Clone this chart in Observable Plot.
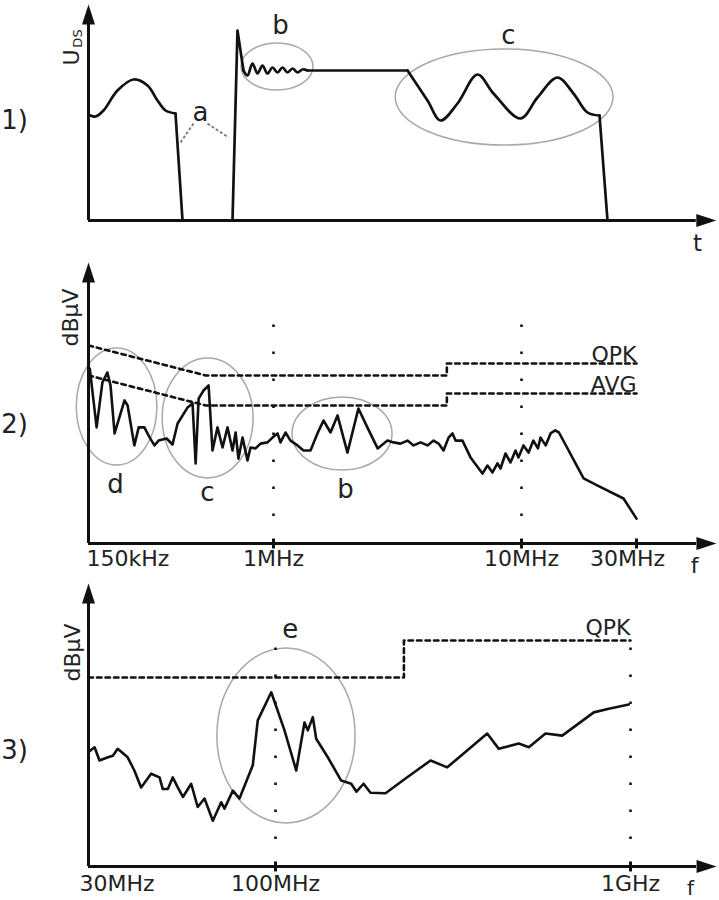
<!DOCTYPE html>
<html><head><meta charset="utf-8">
<script src="https://cdn.jsdelivr.net/npm/d3@7"></script>
<script src="https://cdn.jsdelivr.net/npm/@observablehq/plot@0.6"></script>
<style>body{margin:0;background:#fff}#chart svg{display:block}</style>
</head><body><div id="chart"></div>
<script>
// ---------- Panel 1: drain-source voltage U_DS over time (arbitrary units) ----------
const waveSmooth = [
  {part:"bump",t:0.33,v:52.5},{part:"bump",t:1.17,v:52},{part:"bump",t:2.5,v:55},{part:"bump",t:4.83,v:65},
  {part:"bump",t:7.5,v:70.5},{part:"bump",t:9.83,v:67.5},{part:"bump",t:11.5,v:60},{part:"bump",t:12.83,v:55},{part:"bump",t:14.5,v:53.5},
  {part:"ring",t:25.83,v:75},{part:"ring",t:26.5,v:72.5},{part:"ring",t:27.33,v:78.5},{part:"ring",t:28.17,v:73.5},
  {part:"ring",t:29,v:77.5},{part:"ring",t:29.83,v:73.5},{part:"ring",t:30.67,v:76.5},{part:"ring",t:31.5,v:74},
  {part:"ring",t:32.33,v:76.5},{part:"ring",t:33.17,v:74},{part:"ring",t:34,v:76},{part:"ring",t:34.83,v:74},
  {part:"ring",t:35.67,v:75.5},{part:"ring",t:36.5,v:75},
  {part:"osc",t:53.17,v:75},{part:"osc",t:56.5,v:60},{part:"osc",t:58.67,v:50},{part:"osc",t:61.5,v:58.5},
  {part:"osc",t:64.83,v:73},{part:"osc",t:67.5,v:63.5},{part:"osc",t:72,v:51},{part:"osc",t:74.83,v:61.5},
  {part:"osc",t:78.17,v:71.5},{part:"osc",t:80.83,v:63.5},{part:"osc",t:83.17,v:54},{part:"osc",t:85.17,v:52.5}
];
const waveEdges = [
  {part:"off",t:14.5,v:53.5},{part:"off",t:15.67,v:0},{part:"off",t:24,v:0},{part:"off",t:24.83,v:95},{part:"off",t:25.83,v:75},
  {part:"flat",t:36.5,v:75},{part:"flat",t:53.17,v:75},
  {part:"fall",t:85.17,v:52.5},{part:"fall",t:86.5,v:0}
];
const ellipses1 = [
  {x1:25.5,x2:37.5,y1:65,y2:88.5},
  {x1:51.2,x2:87.5,y1:37.5,y2:85.5}
];
const letters1 = [{label:"a",t:18.67,v:54},{label:"b",t:32,v:97.5},{label:"c",t:70,v:92.5}];
const aLeaders = [{x1:17.5,y1:48.5,x2:15.33,y2:39},{x1:19.83,y1:48.5,x2:23.33,y2:41.5}];
const axis1 = {tEnd:101.3, vEnd:98};

// ---------- Panel 2: conducted emission spectrum 150 kHz – 30 MHz ----------
const spectrum2 = [
  [0.150,57.0],[0.152,58.3],[0.163,38.7],[0.173,53.7],[0.182,57.0],[0.188,52.7],[0.196,36.7],[0.217,47.7],[0.224,46.0],
  [0.240,32.7],[0.251,38.7],[0.266,38.7],[0.281,35.3],[0.295,32.7],[0.308,34.3],[0.334,35.0],[0.355,33.0],[0.374,40.0],
  [0.414,45.3],[0.436,46.7],[0.450,26.7],[0.464,48.3],[0.488,51.0],[0.514,52.7],[0.535,31.0],[0.563,38.7],[0.593,32.0],
  [0.624,38.7],[0.657,31.0],[0.678,37.0],[0.698,28.3],[0.728,35.3],[0.766,27.7],[0.790,32.0],[0.832,31.7],[0.875,33.3],
  [0.940,33.7],[0.990,35.3],[1.038,36.7],[1.067,33.7],[1.118,37.0],[1.171,34.3],[1.250,32.7],[1.321,31.0],[1.410,31.0],
  [1.504,36.7],[1.591,41.0],[1.698,37.0],[1.812,42.7],[1.987,30.3],[2.20,45.0],[2.39,38.7],[2.63,31.7],[2.88,34.3],
  [3.05,33.7],[3.25,33.3],[3.47,34.3],[3.67,32.7],[3.92,33.7],[4.18,32.7],[4.42,34.3],[4.63,33.3],[4.85,31.0],[5.08,35.3],
  [5.27,36.7],[5.42,34.3],[5.78,34.3],[6.23,28.7],[6.96,23.3],[7.29,26.0],[7.64,23.7],[8.00,26.7],[8.23,25.0],[8.62,30.0],
  [9.03,27.0],[9.46,31.0],[9.72,28.7],[10.19,32.7],[10.7,30.3],[11.2,34.3],[11.7,31.7],[12.0,35.3],[12.6,32.7],[13.2,36.7],
  [13.8,37.7],[14.3,37.0],[18.1,21.7],[20.7,19.3],[26.5,15.0],[30,8.3]
];
const qpk2 = [[0.15,66],[0.5,56],[5,56],[5,60],[30,60]];
const avg2 = [[0.15,56],[0.5,46],[5,46],[5,50],[30,50]];
const ellipses2 = [
  {x1:0.133,x2:0.304,y1:26,y2:65},
  {x1:0.321,x2:0.815,y1:21.7,y2:61.7},
  {x1:1.193,x2:3.02,y1:24.3,y2:48.7}
];
const letters2 = [{label:"d",f:0.198,db:19.7},{label:"c",f:0.508,db:17},{label:"b",f:1.95,db:18}];
const limitLabels2 = [{label:"QPK",f:30,db:63},{label:"AVG",f:30,db:52.7}];
const ticks2 = [{f:0.15,label:"150kHz"},{f:1,label:"1MHz"},{f:10,label:"10MHz"},{f:30,label:"30MHz"}];
const guides2 = [1,10];
const axis2 = {fStart:0.15, fEnd:53.2, dbBase:0, dbEnd:87, guideTop:80};

// ---------- Panel 3: radiated emission spectrum 30 MHz – 1 GHz ----------
const spectrum3 = [
  [30,15.9],[31.2,16.8],[32.2,14.3],[34.0,14.9],[35.1,15.2],[36.2,16.5],[38.6,14.9],[40.3,12.4],[42.1,9.2],[44.9,11.8],
  [47.4,11.1],[48.4,8.9],[50.0,8.9],[51.6,11.1],[53.3,9.2],[55.1,7.4],[58.1,9.9],[60.6,5.5],[63.3,7.1],[66.8,2.9],
  [70.5,6.4],[72.0,5.2],[76.0,8.6],[79.3,7.1],[86.4,13.4],[89.2,21.9],[97.3,27.2],[106.0,20.0],[114.4,12.4],[120.7,21.5],
  [123.3,20.0],[127.4,22.5],[130.2,18.4],[140.4,14.9],[153.1,10.5],[163.4,9.9],[169.1,8.4],[177.0,9.9],[185.2,8.2],
  [204.1,8.1],[232.4,10.9],[273.4,14.3],[304.6,13.0],[394.8,19.4],[425.6,16.5],[484.6,17.5],[517.2,16.8],[576.2,19.4],
  [642.1,19.0],[788.1,23.4],[868.6,24.1],[989.0,24.9]
];
const qpk3 = [[30,30],[230,30],[230,37],[1000,37]];
const ellipses3 = [{x1:68.8,x2:168.1,y1:2.4,y2:35.5}];
const letters3 = [{label:"e",f:110,db:39.1}];
const limitLabels3 = [{label:"QPK",f:1000,db:39.3}];
const ticks3 = [{f:30,label:"30MHz"},{f:100,label:"100MHz"},{f:1000,label:"1GHz"}];
const guides3 = [{f:100,top:39},{f:1000,top:37}];
const axis3 = {fStart:30, fEnd:1535, dbBase:-5.75, dbEnd:44};

// ---------- shared styling ----------
const FONT = "DejaVu Sans";
const INK = "#111";
const TXT = "#222";
const arrowHead = {draw(ctx, size){const r=Math.sqrt(size/Math.PI);ctx.moveTo(0,-4*r);ctx.lineTo(1.3*r,0);ctx.lineTo(-1.3*r,0);ctx.closePath();}};
const tickSym = {draw(ctx, size){const r=Math.sqrt(size/Math.PI);ctx.rect(-1.5,-r,3,2*r);}};
const ellipseStyle = {fill:"none", stroke:"#a8a8a8", strokeWidth:1.5, rx:2000, ry:2000};
const limitStyle = {stroke:INK, strokeWidth:2.6, strokeDasharray:"4.5,4"};
const guideStyle = {stroke:INK, strokeWidth:2.6, strokeDasharray:"2.5,24.5"};
const style = {fontFamily:FONT, background:"white", overflow:"visible"};
const centered = {textAnchor:"middle", lineAnchor:"middle", fill:TXT};

function axesMarks(xStart, xEnd, yBase, yEnd){
  return [
    Plot.ruleY([yBase], {x1:xStart, x2:xEnd, stroke:INK, strokeWidth:3}),
    Plot.ruleX([xStart], {y1:yBase, y2:yEnd, stroke:INK, strokeWidth:3}),
    Plot.dot([[xEnd,yBase]], {x:d=>d[0], y:d=>d[1], symbol:arrowHead, r:5, fill:INK, stroke:"none", rotate:90}),
    Plot.dot([[xStart,yEnd]], {x:d=>d[0], y:d=>d[1], symbol:arrowHead, r:5, fill:INK, stroke:"none"})
  ];
}

const chart = document.getElementById("chart");

// Panel 1
chart.append(Plot.plot({
  width:719, height:255, marginLeft:88, marginRight:31, marginTop:20, marginBottom:35,
  x:{domain:[0,100], axis:null}, y:{domain:[0,100], axis:null}, style,
  marks:[
    Plot.rect(ellipses1, {x1:"x1", x2:"x2", y1:"y1", y2:"y2", ...ellipseStyle}),
    Plot.link(aLeaders, {x1:"x1", y1:"y1", x2:"x2", y2:"y2", stroke:"#777", strokeWidth:1.8, strokeDasharray:"3,2"}),
    ...axesMarks(0, axis1.tEnd, 0, axis1.vEnd),
    Plot.line(waveSmooth, {x:"t", y:"v", z:"part", curve:"catmull-rom", stroke:INK, strokeWidth:2.7}),
    Plot.line(waveEdges, {x:"t", y:"v", z:"part", stroke:INK, strokeWidth:2.7}),
    Plot.text(letters1, {x:"t", y:"v", text:"label", fontSize:26, ...centered}),
    Plot.text(["U"], {frameAnchor:"top-left", dx:-17, dy:37, rotate:-90, fontSize:22, ...centered}),
    Plot.text(["DS"], {frameAnchor:"top-left", dx:-11, dy:18, rotate:-90, fontSize:13, ...centered}),
    Plot.text(["t"], {frameAnchor:"bottom-right", dx:9, dy:23, fontSize:23, ...centered}),
    Plot.text(["1)"], {frameAnchor:"top-left", dx:-74, dy:100, fontSize:26, ...centered})
  ]
}));

// Panel 2
const off2 = 255;
chart.append(Plot.plot({
  width:719, height:320, marginLeft:88, marginRight:83, marginTop:7, marginBottom:32,
  x:{type:"log", domain:[0.15,1,10,30], range:[88,273,521,636], axis:null},
  y:{domain:[0,66], range:[543-off2, 345-off2], axis:null}, style,
  marks:[
    Plot.rect(ellipses2, {x1:"x1", x2:"x2", y1:"y1", y2:"y2", ...ellipseStyle}),
    Plot.ruleX(guides2, {y1:axis2.dbBase, y2:axis2.guideTop, ...guideStyle}),
    Plot.line(qpk2, limitStyle),
    Plot.line(avg2, limitStyle),
    ...axesMarks(axis2.fStart, axis2.fEnd, axis2.dbBase, axis2.dbEnd),
    Plot.dot(ticks2.slice(1), {x:"f", y:()=>axis2.dbBase, symbol:tickSym, r:5, fill:INK, stroke:"none"}),
    Plot.line(spectrum2, {stroke:INK, strokeWidth:2.6}),
    Plot.text(letters2, {x:"f", y:"db", text:"label", fontSize:26, ...centered}),
    Plot.text(limitLabels2, {x:"f", y:"db", text:"label", fontSize:22, ...centered, textAnchor:"end"}),
    Plot.text(ticks2.slice(0,1), {x:"f", y:()=>axis2.dbBase, text:"label", dx:-2, dy:15, fontSize:22, ...centered, textAnchor:"start"}),
    Plot.text(ticks2.slice(1,3), {x:"f", y:()=>axis2.dbBase, text:"label", dy:15, fontSize:22, ...centered}),
    Plot.text(ticks2.slice(3), {x:"f", y:()=>axis2.dbBase, text:"label", dx:-9, dy:15, fontSize:22, ...centered}),
    Plot.text(["f"], {frameAnchor:"bottom-right", dx:58, dy:22, fontSize:22, ...centered}),
    Plot.text(["dBµV"], {frameAnchor:"top-left", dx:-18, dy:55, rotate:-90, fontSize:22, ...centered}),
    Plot.text(["2)"], {frameAnchor:"top-left", dx:-74, dy:162, fontSize:26, ...centered})
  ]
}));

// Panel 3
const off3 = 575;
chart.append(Plot.plot({
  width:719, height:325, marginLeft:88, marginRight:89, marginTop:8, marginBottom:34,
  x:{type:"log", domain:[30,100,1000], range:[88,275,630], axis:null},
  y:{domain:[30,37], range:[677-off3, 640-off3], axis:null}, style,
  marks:[
    Plot.rect(ellipses3, {x1:"x1", x2:"x2", y1:"y1", y2:"y2", ...ellipseStyle}),
    Plot.ruleX(guides3, {x:"f", y1:axis3.dbBase, y2:"top", ...guideStyle}),
    Plot.line(qpk3, limitStyle),
    ...axesMarks(axis3.fStart, axis3.fEnd, axis3.dbBase, axis3.dbEnd),
    Plot.dot(ticks3.slice(1), {x:"f", y:()=>axis3.dbBase, symbol:tickSym, r:5, fill:INK, stroke:"none"}),
    Plot.line(spectrum3, {stroke:INK, strokeWidth:2.6}),
    Plot.text(letters3, {x:"f", y:"db", text:"label", fontSize:26, ...centered}),
    Plot.text(limitLabels3, {x:"f", y:"db", text:"label", fontSize:22, ...centered, textAnchor:"end"}),
    Plot.text(ticks3.slice(0,1), {x:"f", y:()=>axis3.dbBase, text:"label", dx:-9, dy:17, fontSize:22, ...centered, textAnchor:"start"}),
    Plot.text(ticks3.slice(1), {x:"f", y:()=>axis3.dbBase, text:"label", dy:17, fontSize:22, ...centered}),
    Plot.text(["f"], {frameAnchor:"bottom-right", dx:60, dy:22, fontSize:20, ...centered}),
    Plot.text(["dBµV"], {frameAnchor:"top-left", dx:-16, dy:69, rotate:-90, fontSize:22, ...centered}),
    Plot.text(["3)"], {frameAnchor:"top-left", dx:-74, dy:167, fontSize:26, ...centered})
  ]
}));
</script></body></html>
